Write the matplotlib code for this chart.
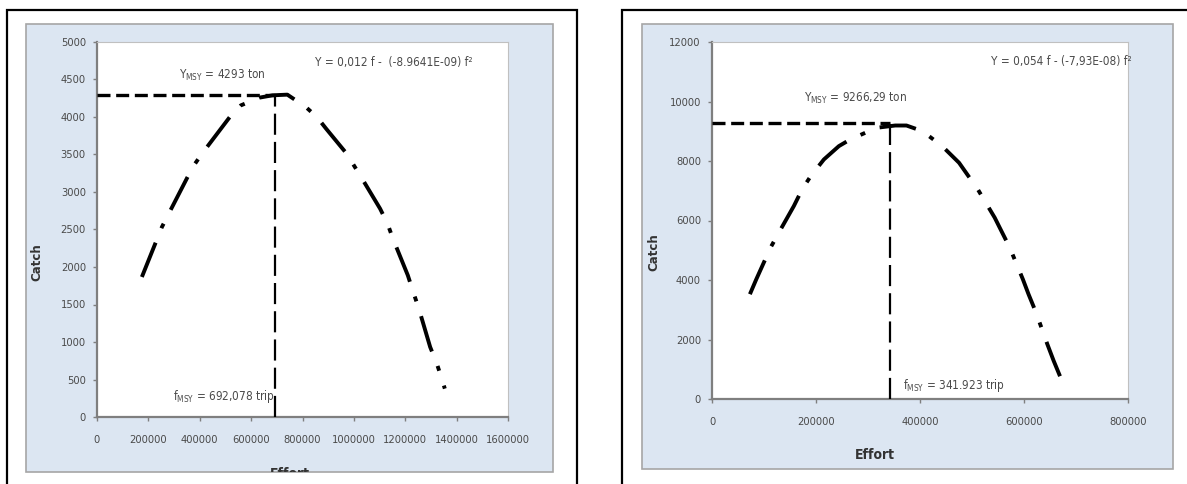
import numpy as np
import matplotlib.pyplot as plt
from matplotlib.patches import Rectangle
from matplotlib.ticker import FuncFormatter

# Surplus production curves (Schaefer) for two fisheries: catch vs effort
# left fishery
effort_a = [174700, 252700, 286000, 372600, 408700, 517000, 560000, 632000,
            683000, 741000, 813000, 856000, 892000, 972000, 1000000, 1036000,
            1102000, 1131000, 1152000, 1210000, 1231000, 1253000, 1297000,
            1323000, 1340000, 1354000]
catch_a = [1867, 2533, 2756, 3333, 3511, 4000, 4155, 4258, 4289, 4298, 4133,
           4000, 3844, 3511, 3355, 3155, 2778, 2578, 2378, 1889, 1667, 1444,
           933, 711, 533, 378]
f_msy_a = 692078
y_msy_a = 4293
eq_a = "Y = 0,012 f -  (-8.9641E-09) f²"
ymsy_txt_a = r"Y$_\mathregular{MSY}$ = 4293 ton"
fmsy_txt_a = r"f$_\mathregular{MSY}$ = 692,078 trip"

# right fishery
effort_b = [72900, 85200, 99600, 112600, 128500, 157400, 173300, 189900,
            215200, 244000, 265700, 287400, 316200, 352300, 374000, 395700,
            417300, 442600, 475100, 493100, 511200, 543700, 558100, 572600,
            597800, 608700, 623100, 644800, 657000, 671500]
catch_b = [3523, 4026, 4585, 5089, 5592, 6486, 7046, 7493, 8052, 8500, 8723,
           8891, 9115, 9193, 9193, 9059, 8836, 8500, 7941, 7493, 7046, 6095,
           5592, 5089, 4026, 3523, 2908, 1846, 1286, 671]
f_msy_b = 341923
y_msy_b = 9266.29
eq_b = "Y = 0,054 f - (-7,93E-08) f²"
ymsy_txt_b = r"Y$_\mathregular{MSY}$ = 9266,29 ton"
fmsy_txt_b = r"f$_\mathregular{MSY}$ = 341.923 trip"

xticks_a = np.arange(0, 1600001, 200000)
yticks_a = np.arange(0, 5001, 500)
xticks_b = np.arange(0, 800001, 200000)
yticks_b = np.arange(0, 12001, 2000)

NARROW = ['DejaVu Sans']
TXT = '#4a4a4a'
PANEL_BG = '#dce6f2'

W, H = 1187, 484
fig = plt.figure(figsize=(W / 100, H / 100), dpi=100)


def fx(px):
    return px / W


def fy(py):
    return 1 - py / H


def panel(outer_x0, outer_x1, bg_box, ax_box):
    # outer black frame (runs past the bottom of the image)
    fig.add_artist(Rectangle((fx(outer_x0), -0.1), fx(outer_x1 - outer_x0),
                             fy(10) + 0.1, transform=fig.transFigure,
                             facecolor='white', edgecolor='black', lw=1.6,
                             zorder=0))
    x0, y0, x1, y1 = bg_box
    bg = Rectangle((fx(x0), fy(y1)), fx(x1 - x0), (y1 - y0) / H,
                   transform=fig.transFigure, facecolor=PANEL_BG,
                   edgecolor='#a6a6a6', lw=1.2, zorder=1)
    fig.add_artist(bg)
    ax0, ay0, ax1, ay1 = ax_box
    ax = fig.add_axes([fx(ax0), fy(ay1), fx(ax1 - ax0), (ay1 - ay0) / H])
    ax.set_zorder(2)
    ax.set_facecolor('white')
    for s in ['top', 'right']:
        ax.spines[s].set_color('#c0c0c0')
        ax.spines[s].set_linewidth(0.8)
    for s in ['left', 'bottom']:
        ax.spines[s].set_color('#7f7f7f')
        ax.spines[s].set_linewidth(1.6)
    ax.tick_params(axis='both', direction='out', length=3, width=1,
                   color='#7f7f7f', labelcolor=TXT, labelsize=8)
    ax.tick_params(axis='x', pad=10)
    ax.tick_params(axis='y', pad=5)
    ax.xaxis.set_major_formatter(FuncFormatter(lambda v, p: f"{int(v)}"))
    ax.yaxis.set_major_formatter(FuncFormatter(lambda v, p: f"{int(v)}"))
    return ax, bg


def narrow(ax):
    for lab in ax.get_xticklabels() + ax.get_yticklabels():
        lab.set_family(NARROW)
        lab.set_stretch('condensed')


def draw_curve(ax, effort, catch, f_msy, y_msy):
    ax.plot(effort, catch, color='black', lw=2.8,
            linestyle=(0, (9.5, 4, 1.3, 4)), solid_capstyle='butt',
            dash_capstyle='butt', zorder=3)
    ax.plot([0, f_msy], [y_msy, y_msy], color='black', lw=2.4,
            linestyle=(0, (3.9, 1.7)), dash_capstyle='butt', zorder=3)
    ax.plot([f_msy, f_msy], [0, y_msy], color='black', lw=1.6,
            linestyle=(0, (9.5, 3.2)), dash_capstyle='butt', zorder=3)


def note(ax, x, y, s, ha):
    ax.text(x, y, s, ha=ha, va='center', fontsize=8.5, color=TXT,
            family=NARROW, stretch='condensed')


# left panel
ax1, bg1 = panel(7, 577, (26, 24, 553, 472), (97, 42, 508, 417))
ax1.set_xlim(0, 1600000)
ax1.set_ylim(0, 5000)
ax1.set_xticks(xticks_a)
ax1.set_yticks(yticks_a)
narrow(ax1)
draw_curve(ax1, effort_a, catch_a, f_msy_a, y_msy_a)
note(ax1, 488000, 4555, ymsy_txt_a, 'center')
note(ax1, 849000, 4733, eq_a, 'left')
note(ax1, 495000, 267, fmsy_txt_a, 'center')
fig.text(fx(37), fy(262), 'Catch', rotation=90, ha='center', va='center',
         fontsize=8.5, fontweight='bold', color='#333333')
t = fig.text(fx(290), fy(474), 'Effort', ha='center', va='center',
             fontsize=10, fontweight='bold', color='#333333', family=NARROW,
             stretch='condensed')
t.set_clip_path(bg1)

# right panel
ax2, bg2 = panel(622, 1240, (642, 24, 1173, 469), (712, 42, 1128, 399))
ax2.set_xlim(0, 800000)
ax2.set_ylim(0, 12000)
ax2.set_xticks(xticks_b)
ax2.set_yticks(yticks_b)
narrow(ax2)
draw_curve(ax2, effort_b, catch_b, f_msy_b, y_msy_b)
note(ax2, 276000, 10099, ymsy_txt_b, 'center')
note(ax2, 536000, 11351, eq_b, 'left')
note(ax2, 367000, 447, fmsy_txt_b, 'left')
fig.text(fx(654), fy(252), 'Catch', rotation=90, ha='center', va='center',
         fontsize=8.5, fontweight='bold', color='#333333')
fig.text(fx(875), fy(455), 'Effort', ha='center', va='center',
         fontsize=10, fontweight='bold', color='#333333', family=NARROW,
         stretch='condensed')

fig.savefig('out.png', dpi=100)
